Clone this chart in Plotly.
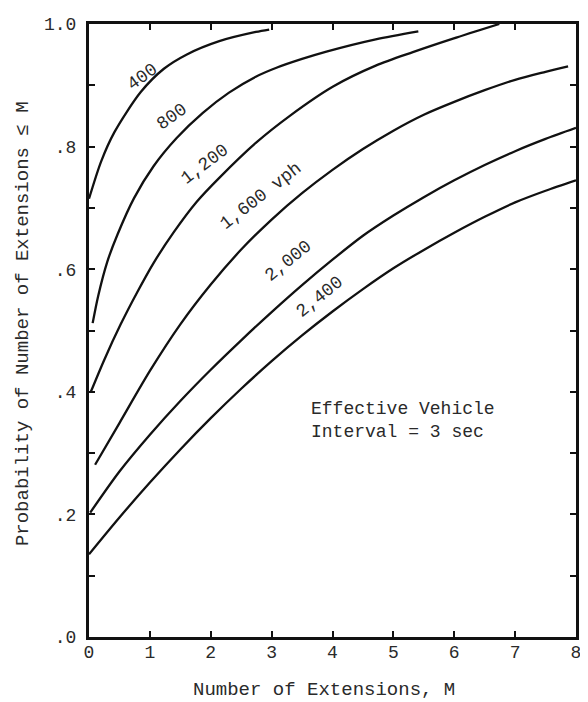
import plotly.graph_objects as go

# ---- data ----
x_400 = [0.0, 0.20, 0.42, 0.85, 1.23, 1.60, 2.14, 2.74, 2.96]
y_400 = [0.715, 0.776, 0.824, 0.889, 0.927, 0.950, 0.972, 0.987, 0.991]

x_800 = [0.06, 0.15, 0.30, 0.47, 0.74, 1.06, 1.44, 1.87, 2.30, 2.74, 3.09, 3.50, 3.90, 4.71, 5.41]
y_800 = [0.512, 0.556, 0.612, 0.657, 0.716, 0.768, 0.814, 0.855, 0.888, 0.914, 0.929, 0.943, 0.955, 0.975, 0.988]

x_1200 = [0.03, 0.25, 0.52, 0.79, 1.06, 1.39, 1.77, 2.14, 2.74, 3.31, 4.01, 4.71, 5.32, 5.98, 6.74]
y_1200 = [0.400, 0.452, 0.510, 0.562, 0.610, 0.660, 0.710, 0.749, 0.806, 0.851, 0.898, 0.932, 0.954, 0.976, 1.0]

x_1600 = [0.10, 0.50, 1.00, 1.50, 2.00, 2.50, 3.00, 3.50, 4.00, 4.50, 5.00, 5.50, 6.00, 6.50, 7.00, 7.50, 7.87]
y_1600 = [0.281, 0.349, 0.434, 0.510, 0.575, 0.632, 0.681, 0.724, 0.762, 0.796, 0.826, 0.852, 0.873, 0.892, 0.909, 0.922, 0.931]

x_2000 = [0.02, 0.50, 1.00, 1.50, 2.00, 2.50, 3.00, 3.50, 4.00, 4.50, 5.00, 5.50, 6.00, 6.50, 7.00, 7.50, 8.00]
y_2000 = [0.203, 0.270, 0.330, 0.385, 0.436, 0.484, 0.530, 0.574, 0.6155, 0.6545, 0.6875, 0.7175, 0.745, 0.770, 0.7925, 0.8125, 0.8305]

x_2400 = [0.0, 0.50, 1.00, 1.50, 2.00, 2.50, 3.00, 3.50, 4.00, 4.50, 5.00, 5.50, 6.00, 6.50, 7.00, 7.50, 8.00]
y_2400 = [0.135, 0.195, 0.252, 0.306, 0.357, 0.405, 0.450, 0.492, 0.531, 0.5675, 0.6015, 0.6315, 0.6595, 0.6855, 0.709, 0.728, 0.745]

curve_x = [x_400, x_800, x_1200, x_1600, x_2000, x_2400]
curve_y = [y_400, y_800, y_1200, y_1600, y_2000, y_2400]

label_text = ["400", "800", "1,200", "1,600 vph", "2,000", "2,400"]
label_x = [0.875, 1.36, 1.91, 2.82, 3.27, 3.79]
label_y = [0.914, 0.848, 0.771, 0.720, 0.614, 0.554]
label_angle = [-36, -36, -37, -38, -39, -39]

x_tickvals = [0, 1, 2, 3, 4, 5, 6, 7, 8]
x_ticktext = ["0", "1", "2", "3", "4", "5", "6", "7", "8"]
y_tickvals = [0.0, 0.1, 0.2, 0.3, 0.4, 0.5, 0.6, 0.7, 0.8, 0.9, 1.0]
y_ticktext = [".0", "", ".2", "", ".4", "", ".6", "", ".8", "", "1.0"]

FONT = "Liberation Mono, DejaVu Sans Mono, monospace"
TXT = "#2a2a2a"

fig = go.Figure()
for cx, cy in zip(curve_x, curve_y):
    fig.add_trace(go.Scatter(
        x=cx, y=cy, mode="lines",
        line=dict(color="#111111", width=2.3, shape="spline", smoothing=0.8),
        showlegend=False, hoverinfo="skip", cliponaxis=True,
    ))

for t, lx, ly, a in zip(label_text, label_x, label_y, label_angle):
    fig.add_annotation(x=lx, y=ly, xref="x", yref="y", text=t, textangle=a,
                       showarrow=False, font=dict(family=FONT, size=18, color=TXT))

fig.add_annotation(x=3.61, y=0.3525, xref="x", yref="y",
                   text="Effective Vehicle<br>Interval = 3 sec",
                   xanchor="left", yanchor="middle", align="left", showarrow=False,
                   font=dict(family=FONT, size=18, color=TXT))

# axis titles
fig.add_annotation(x=-0.1356, y=0.512, xref="paper", yref="paper",
                   text="Probability of Number of Extensions ≤ M", textangle=-90,
                   showarrow=False, xanchor="center", yanchor="middle",
                   font=dict(family=FONT, size=19, color=TXT))
fig.add_annotation(x=0.483, y=-0.086, xref="paper", yref="paper",
                   text="Number of Extensions, M",
                   showarrow=False, xanchor="center", yanchor="middle",
                   font=dict(family=FONT, size=19, color=TXT))

axis_common = dict(showline=True, linecolor="#111111", linewidth=3, mirror="ticks",
                   ticks="inside", ticklen=6, tickwidth=2, tickcolor="#111111",
                   showgrid=False, zeroline=False,
                   tickfont=dict(family=FONT, size=18, color=TXT))

fig.update_xaxes(range=[0, 8], tickmode="array", tickvals=x_tickvals, ticktext=x_ticktext,
                 ticklabelstandoff=-4, **axis_common)
fig.update_yaxes(range=[0, 1.0], tickmode="array", tickvals=y_tickvals, ticktext=y_ticktext,
                 ticklabelstandoff=6, **axis_common)

# page body has an 8px margin, so the figure is sized to fill the rest of the window
fig.update_layout(
    width=580, height=694,
    margin=dict(l=81, r=7, t=12, b=65),
    paper_bgcolor="white", plot_bgcolor="white",
    showlegend=False,
)

fig.write_html("out.html")
